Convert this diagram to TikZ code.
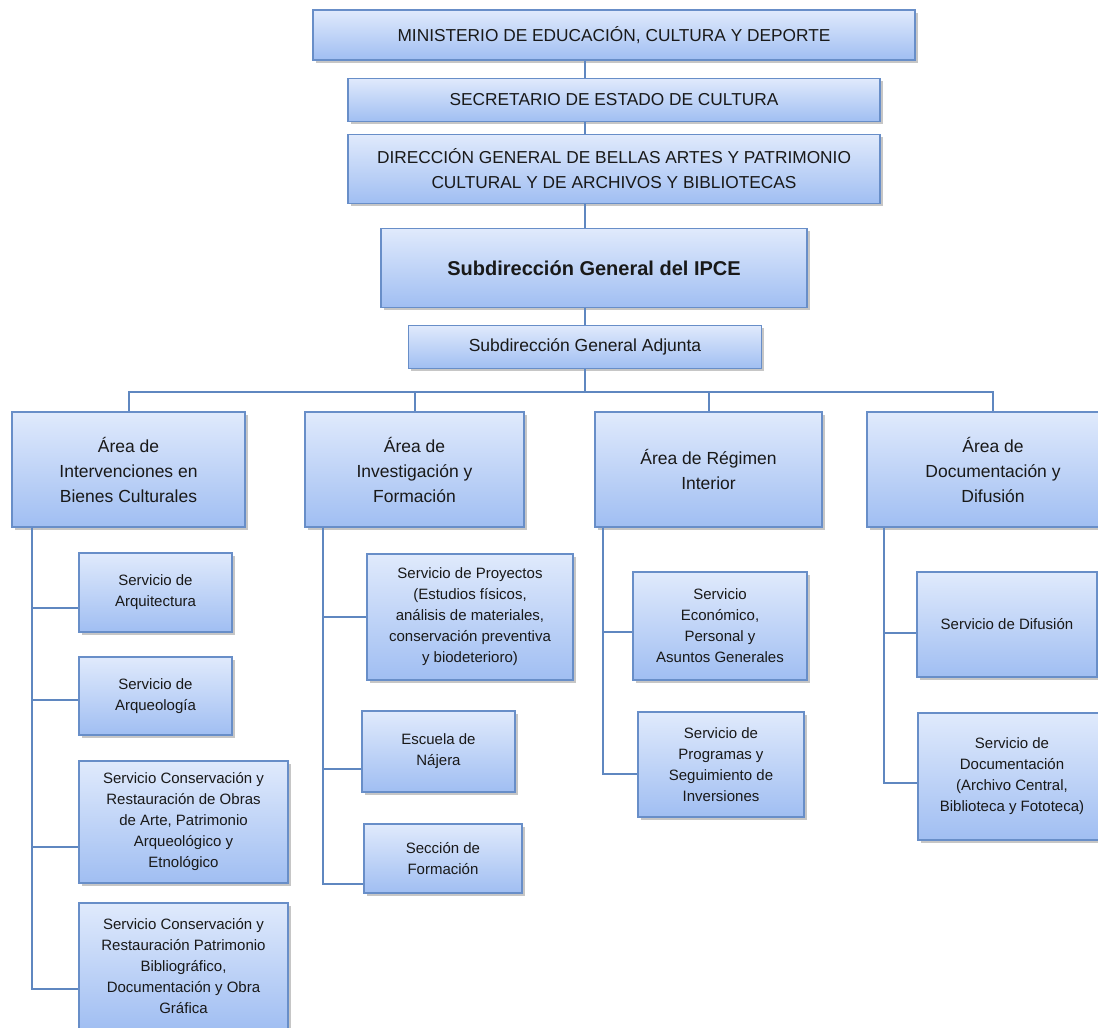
\documentclass[tikz,border=0pt]{standalone}
\usepackage{fontspec}
\setmainfont{Liberation Sans}
\usetikzlibrary{shadows}
\definecolor{boxtop}{RGB}{224,234,252}
\definecolor{boxbot}{RGB}{160,190,242}
\definecolor{boxline}{RGB}{104,142,200}
\definecolor{linkc}{RGB}{95,135,192}
\begin{document}
\begin{tikzpicture}[x=1pt,y=-1pt,
  box/.style={draw=boxline,line width=1.2pt,top color=boxtop,bottom color=boxbot,
    drop shadow={shadow xshift=2.5pt,shadow yshift=-2.5pt,opacity=0.45},
    align=center,inner sep=2pt,text=black!90},
  head/.style={box,font=\fontsize{17.3}{25}\selectfont},
  area/.style={box,font=\fontsize{17.5}{25}\selectfont,minimum height=115pt},
  serv/.style={box,font=\fontsize{15}{21}\selectfont},
  link/.style={draw=linkc,line width=2pt}]
  \useasboundingbox (0,0) rectangle (1098,1028);

  \node[head,minimum width=602pt,minimum height=50pt] (min) at (614,35) {MINISTERIO DE EDUCACIÓN, CULTURA Y DEPORTE};
  \node[head,minimum width=532pt,minimum height=43pt] (sec) at (614,100) {SECRETARIO DE ESTADO DE CULTURA};
  \node[head,minimum width=532pt,minimum height=69pt] (dg) at (614,169) {DIRECCIÓN GENERAL DE BELLAS ARTES Y PATRIMONIO\\CULTURAL Y DE ARCHIVOS Y BIBLIOTECAS};
  \node[box,font=\fontsize{20}{24}\selectfont\bfseries,minimum width=426pt,minimum height=79pt] (ipce) at (594,268) {Subdirección General del IPCE};
  \node[box,font=\fontsize{17.5}{22}\selectfont,minimum width=353pt,minimum height=43pt] (adj) at (585,347) {Subdirección General Adjunta};

  \node[area,minimum width=233pt] (a1) at (128.5,469.5) {Área de\\Intervenciones en\\Bienes Culturales};
  \node[area,minimum width=219pt] (a2) at (414.5,469.5) {Área de\\Investigación y\\Formación};
  \node[area,minimum width=227pt] (a3) at (708.5,469.5) {Área de Régimen\\Interior};
  \node[area,minimum width=252pt] (a4) at (993,469.5) {Área de\\Documentación y\\Difusión};

  \node[serv,minimum width=153pt,minimum height=79pt] (s11) at (155.5,592.5) {Servicio de\\Arquitectura};
  \node[serv,minimum width=153pt,minimum height=78pt] (s12) at (155.5,696) {Servicio de\\Arqueología};
  \node[serv,minimum width=209pt,minimum height=122pt] (s13) at (183.5,822) {Servicio Conservación y\\Restauración de Obras\\de Arte, Patrimonio\\Arqueológico y\\Etnológico};
  \node[serv,minimum width=209pt,minimum height=127pt] (s14) at (183.5,966.5) {Servicio Conservación y\\Restauración Patrimonio\\Bibliográfico,\\Documentación y Obra\\Gráfica};

  \node[serv,minimum width=206pt,minimum height=126pt] (s21) at (470,617) {Servicio de Proyectos\\(Estudios físicos,\\análisis de materiales,\\conservación preventiva\\y biodeterioro)};
  \node[serv,minimum width=153pt,minimum height=81pt] (s22) at (438.5,751.5) {Escuela de\\Nájera};
  \node[serv,minimum width=158pt,minimum height=69pt] (s23) at (443,858.5) {Sección de\\Formación};

  \node[serv,minimum width=174pt,minimum height=108pt] (s31) at (720,626) {Servicio\\Económico,\\Personal y\\Asuntos Generales};
  \node[serv,minimum width=166pt,minimum height=105pt] (s32) at (721,764.5) {Servicio de\\Programas y\\Seguimiento de\\Inversiones};

  \node[serv,minimum width=180pt,minimum height=105pt] (s41) at (1007,624.5) {Servicio de Difusión};
  \node[serv,minimum width=188pt,minimum height=127pt] (s42) at (1012,776.5) {Servicio de\\Documentación\\(Archivo Central,\\Biblioteca y Fototeca)};

  \draw[link] (min.south -| adj) -- (sec.north -| adj);
  \draw[link] (sec.south -| adj) -- (dg.north -| adj);
  \draw[link] (dg.south -| adj) -- (ipce.north -| adj);
  \draw[link] (ipce.south -| adj) -- (adj.north);
  \foreach \a in {a1,a2,a3,a4}
    \draw[link] (adj.south) -- ++(0,23) -| (\a.north);

  \draw[link] ([xshift=21pt]a1.south west) |- ([yshift=-15pt]s11.west);
  \draw[link] ([xshift=21pt]a1.south west) |- ([yshift=-4pt]s12.west);
  \draw[link] ([xshift=21pt]a1.south west) |- ([yshift=-25pt]s13.west);
  \draw[link] ([xshift=21pt]a1.south west) |- ([yshift=-22pt]s14.west);
  \draw[link] ([xshift=19pt]a2.south west) |- (s21.west);
  \draw[link] ([xshift=19pt]a2.south west) |- ([yshift=-17pt]s22.west);
  \draw[link] ([xshift=19pt]a2.south west) |- ([yshift=-25pt]s23.west);
  \draw[link] ([xshift=9pt]a3.south west) |- ([yshift=-6pt]s31.west);
  \draw[link] ([xshift=9pt]a3.south west) |- ([yshift=-9pt]s32.west);
  \draw[link] ([xshift=18pt]a4.south west) |- ([yshift=-8pt]s41.west);
  \draw[link] ([xshift=18pt]a4.south west) |- ([yshift=-6pt]s42.west);
\end{tikzpicture}
\end{document}
